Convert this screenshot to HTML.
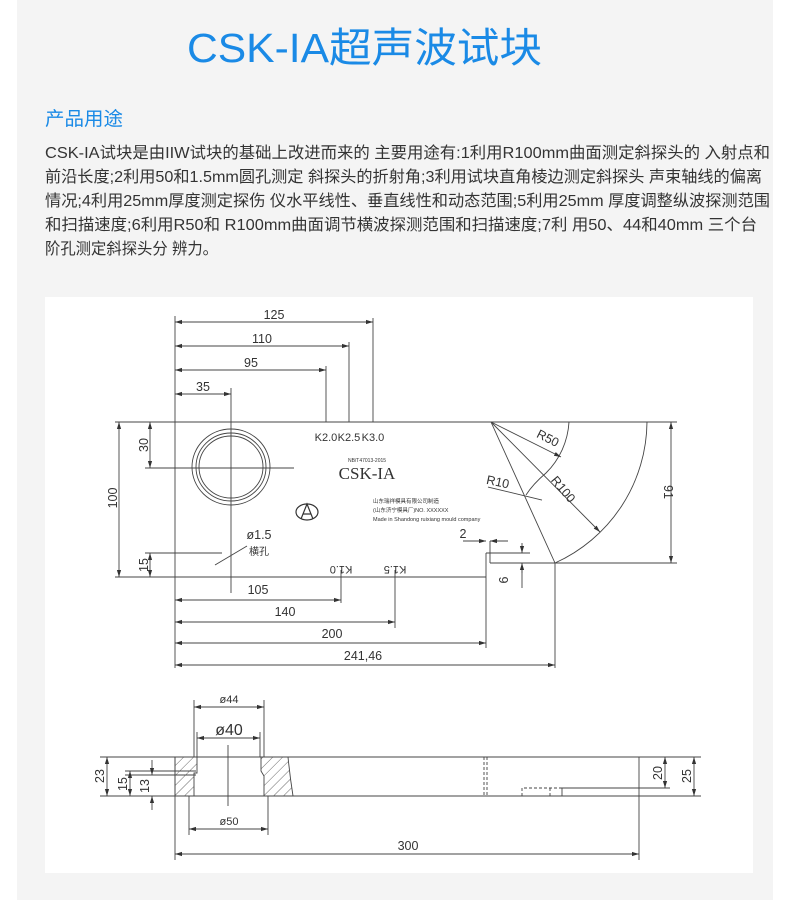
<!DOCTYPE html>
<html><head><meta charset="utf-8"><style>
html,body{margin:0;padding:0;background:#fff;}
svg{display:block;}
.d{font-family:"Liberation Sans","Noto Sans CJK SC",sans-serif;fill:#333;}
</style></head><body>
<svg width="790" height="900" viewBox="0 0 790 900" xmlns="http://www.w3.org/2000/svg">
<defs>
<marker id="a" viewBox="0 0 10 10" refX="10" refY="5" markerWidth="7" markerHeight="7" orient="auto-start-reverse" markerUnits="userSpaceOnUse"><path d="M0,2 L10,5 L0,8z" fill="#333"/></marker>
<pattern id="h" width="7" height="7" patternUnits="userSpaceOnUse" patternTransform="rotate(45)"><line x1="0" y1="0" x2="0" y2="7" stroke="#444" stroke-width="0.8"/></pattern>
</defs>
<rect x="17" y="0" width="756" height="900" fill="#f4f4f4"/>
<rect x="45" y="297" width="708" height="576" fill="#fff"/>
<text x="187" y="62" textLength="355" lengthAdjust="spacingAndGlyphs" font-family="Liberation Sans,Noto Sans CJK SC,sans-serif" font-size="41" fill="#1a8ae6">CSK-IA超声波试块</text>
<text x="45" y="125" textLength="78" lengthAdjust="spacingAndGlyphs" font-family="Liberation Sans,Noto Sans CJK SC,sans-serif" font-size="19" fill="#1a8ae6">产品用途</text>
<g font-family="Liberation Sans,Noto Sans CJK SC,sans-serif" font-size="16" fill="#333">
<text x="45" y="158" textLength="725" lengthAdjust="spacingAndGlyphs">CSK-IA试块是由IIW试块的基础上改进而来的 主要用途有:1利用R100mm曲面测定斜探头的 入射点和</text>
<text x="45" y="182" textLength="717" lengthAdjust="spacingAndGlyphs">前沿长度;2利用50和1.5mm圆孔测定 斜探头的折射角;3利用试块直角棱边测定斜探头 声束轴线的偏离</text>
<text x="45" y="206" textLength="725" lengthAdjust="spacingAndGlyphs">情况;4利用25mm厚度测定探伤 仪水平线性、垂直线性和动态范围;5利用25mm 厚度调整纵波探测范围</text>
<text x="45" y="230" textLength="712" lengthAdjust="spacingAndGlyphs">和扫描速度;6利用R50和 R100mm曲面调节横波探测范围和扫描速度;7利 用50、44和40mm 三个台</text>
<text x="45" y="254" textLength="173" lengthAdjust="spacingAndGlyphs">阶孔测定斜探头分 辨力。</text>
</g>
<g stroke="#444" stroke-width="0.9" fill="none">
<line x1="115" y1="422" x2="677" y2="422"/>
<line x1="115" y1="577" x2="486" y2="577"/>
<line x1="175" y1="316" x2="175" y2="668"/>
<line x1="486" y1="553" x2="486" y2="648"/>
<line x1="490" y1="541" x2="490" y2="563"/>
<line x1="490" y1="563" x2="677" y2="563"/>
<line x1="486" y1="553" x2="530" y2="553"/>
<line x1="522" y1="563" x2="522" y2="588"/>
<line x1="326" y1="366" x2="326" y2="422"/>
<line x1="349" y1="342" x2="349" y2="422"/>
<line x1="373" y1="318" x2="373" y2="422"/>
<line x1="231" y1="388" x2="231" y2="593"/>
<line x1="145" y1="468" x2="294" y2="468"/>
<ellipse cx="231" cy="467" rx="39" ry="38"/>
<ellipse cx="231" cy="467" rx="35" ry="34"/>
<ellipse cx="231" cy="467" rx="32" ry="31"/>
<path d="M647,422 A156,156 0 0 1 555,563"/>
<path d="M569,422 A78,78 0 0 1 546,473 Q533,484 526,495"/>
<line x1="491" y1="422" x2="555" y2="563"/>
<line x1="555" y1="563" x2="555" y2="668"/>
<line x1="491" y1="422" x2="561" y2="457" marker-end="url(#a)"/>
<line x1="491" y1="422" x2="600" y2="532" marker-end="url(#a)"/>
<line x1="488" y1="487" x2="542" y2="500"/>
<line x1="341" y1="570" x2="341" y2="603"/>
<line x1="395" y1="570" x2="395" y2="628"/>
<line x1="145" y1="553" x2="222" y2="553"/>
<line x1="215" y1="565" x2="247" y2="546"/>
<line x1="175" y1="322" x2="373" y2="322" marker-start="url(#a)" marker-end="url(#a)"/>
<line x1="175" y1="346" x2="349" y2="346" marker-start="url(#a)" marker-end="url(#a)"/>
<line x1="175" y1="370" x2="326" y2="370" marker-start="url(#a)" marker-end="url(#a)"/>
<line x1="175" y1="394" x2="231" y2="394" marker-start="url(#a)" marker-end="url(#a)"/>
<line x1="150" y1="422" x2="150" y2="468" marker-start="url(#a)" marker-end="url(#a)"/>
<line x1="119" y1="422" x2="119" y2="577" marker-start="url(#a)" marker-end="url(#a)"/>
<line x1="150" y1="553" x2="150" y2="577" marker-start="url(#a)" marker-end="url(#a)"/>
<line x1="671" y1="422" x2="671" y2="563" marker-start="url(#a)" marker-end="url(#a)"/>
<line x1="522" y1="543" x2="522" y2="553" marker-end="url(#a)"/>
<line x1="522" y1="573" x2="522" y2="563" marker-end="url(#a)"/>
<line x1="463" y1="541" x2="486" y2="541" marker-end="url(#a)"/>
<line x1="508" y1="541" x2="490" y2="541" marker-end="url(#a)"/>
<line x1="175" y1="600" x2="341" y2="600" marker-start="url(#a)" marker-end="url(#a)"/>
<line x1="175" y1="622" x2="395" y2="622" marker-start="url(#a)" marker-end="url(#a)"/>
<line x1="175" y1="643" x2="486" y2="643" marker-start="url(#a)" marker-end="url(#a)"/>
<line x1="175" y1="665" x2="555" y2="665" marker-start="url(#a)" marker-end="url(#a)"/>
<line x1="100" y1="757" x2="701" y2="757"/>
<line x1="100" y1="796" x2="701" y2="796"/>
<line x1="175" y1="757" x2="175" y2="860"/>
<line x1="639" y1="757" x2="639" y2="860"/>
<line x1="484" y1="757" x2="484" y2="796" stroke-dasharray="3,2"/>
<line x1="487" y1="757" x2="487" y2="796" stroke-dasharray="3,2"/>
<path d="M522,796 V788 H562" stroke-dasharray="3,2"/>
<line x1="550" y1="788" x2="550" y2="796" stroke-dasharray="3,2"/>
<line x1="562" y1="788" x2="670" y2="788"/>
<line x1="562" y1="788" x2="562" y2="796"/>
<path d="M175,757 H197 V773 H194 V796 H175 Z" fill="url(#h)"/>
<path d="M261,757 H288 Q290,777 293,796 H264 V776 L261,771 Z" fill="url(#h)"/>
<line x1="194" y1="700" x2="194" y2="757"/>
<line x1="264" y1="700" x2="264" y2="757"/>
<line x1="197" y1="732" x2="197" y2="757"/>
<line x1="260" y1="732" x2="260" y2="757"/>
<line x1="189" y1="796" x2="189" y2="835"/>
<line x1="268" y1="796" x2="268" y2="835"/>
<line x1="228" y1="745" x2="228" y2="806"/>
<line x1="125" y1="771" x2="196" y2="771"/>
<line x1="125" y1="775" x2="196" y2="775"/>
<line x1="194" y1="707" x2="264" y2="707" marker-start="url(#a)" marker-end="url(#a)"/>
<line x1="197" y1="738" x2="260" y2="738" marker-start="url(#a)" marker-end="url(#a)"/>
<line x1="189" y1="829" x2="268" y2="829" marker-start="url(#a)" marker-end="url(#a)"/>
<line x1="175" y1="854" x2="639" y2="854" marker-start="url(#a)" marker-end="url(#a)"/>
<line x1="107" y1="757" x2="107" y2="796" marker-start="url(#a)" marker-end="url(#a)"/>
<line x1="130" y1="771" x2="130" y2="796" marker-start="url(#a)" marker-end="url(#a)"/>
<line x1="152" y1="760" x2="152" y2="775" marker-end="url(#a)"/>
<line x1="152" y1="810" x2="152" y2="796" marker-end="url(#a)"/>
<line x1="665" y1="757" x2="665" y2="788" marker-start="url(#a)" marker-end="url(#a)"/>
<line x1="694" y1="757" x2="694" y2="796" marker-start="url(#a)" marker-end="url(#a)"/>
</g>
<g stroke="#333" fill="none" stroke-width="1.2"><ellipse cx="307" cy="512" rx="11" ry="8"/><path d="M301,519 L307,504 L313,519 M303,514 H311"/></g>
<g class="d" font-size="12.5" text-anchor="middle">
<text x="274" y="319">125</text>
<text x="262" y="343">110</text>
<text x="251" y="367">95</text>
<text x="203" y="391">35</text>
<text x="326" y="441" font-size="11">K2.0</text>
<text x="349" y="441" font-size="11">K2.5</text>
<text x="373" y="441" font-size="11">K3.0</text>
<text x="367" y="462" font-size="5">NB/T47013-2015</text>
<text x="367" y="479" font-size="17" font-family="Liberation Serif,serif">CSK-IA</text>
<text x="258" y="594">105</text>
<text x="285" y="616">140</text>
<text x="332" y="638">200</text>
<text x="363" y="660">241,46</text>
<text x="463" y="538">2</text>
<text x="259" y="539">ø1.5</text>
<text x="259" y="555" font-size="10">横孔</text>
<text x="341" y="560" font-size="11" transform="rotate(180 341 563)">K1.0</text>
<text x="395" y="560" font-size="11" transform="rotate(180 395 563)">K1.5</text>
<text transform="translate(148,445) rotate(-90)">30</text>
<text transform="translate(117,498) rotate(-90)">100</text>
<text transform="translate(148,565) rotate(-90)">15</text>
<text transform="translate(664,492) rotate(90)">91</text>
<text transform="translate(508,580) rotate(-90)">6</text>
<text transform="translate(546,442) rotate(27)">R50</text>
<text transform="translate(560,492) rotate(50)">R100</text>
<text transform="translate(497,486) rotate(12)">R10</text>
<text x="229" y="703" font-size="11">ø44</text>
<text x="229" y="735" font-size="16">ø40</text>
<text x="229" y="825" font-size="11">ø50</text>
<text x="408" y="850">300</text>
<text transform="translate(104,776) rotate(-90)">23</text>
<text transform="translate(127,784) rotate(-90)">15</text>
<text transform="translate(149,786) rotate(-90)">13</text>
<text transform="translate(662,773) rotate(-90)">20</text>
<text transform="translate(691,776) rotate(-90)">25</text>
</g>
<g class="d" font-size="5.5" font-family="Liberation Serif,Noto Serif CJK SC,serif">
<text x="373" y="503">山东瑞祥模具有限公司制造</text>
<text x="373" y="512">(山东济宁模具厂)NO. XXXXXX</text>
<text x="373" y="521">Made in Shandong ruixiang mould company</text>
</g>
</svg>
</body></html>
